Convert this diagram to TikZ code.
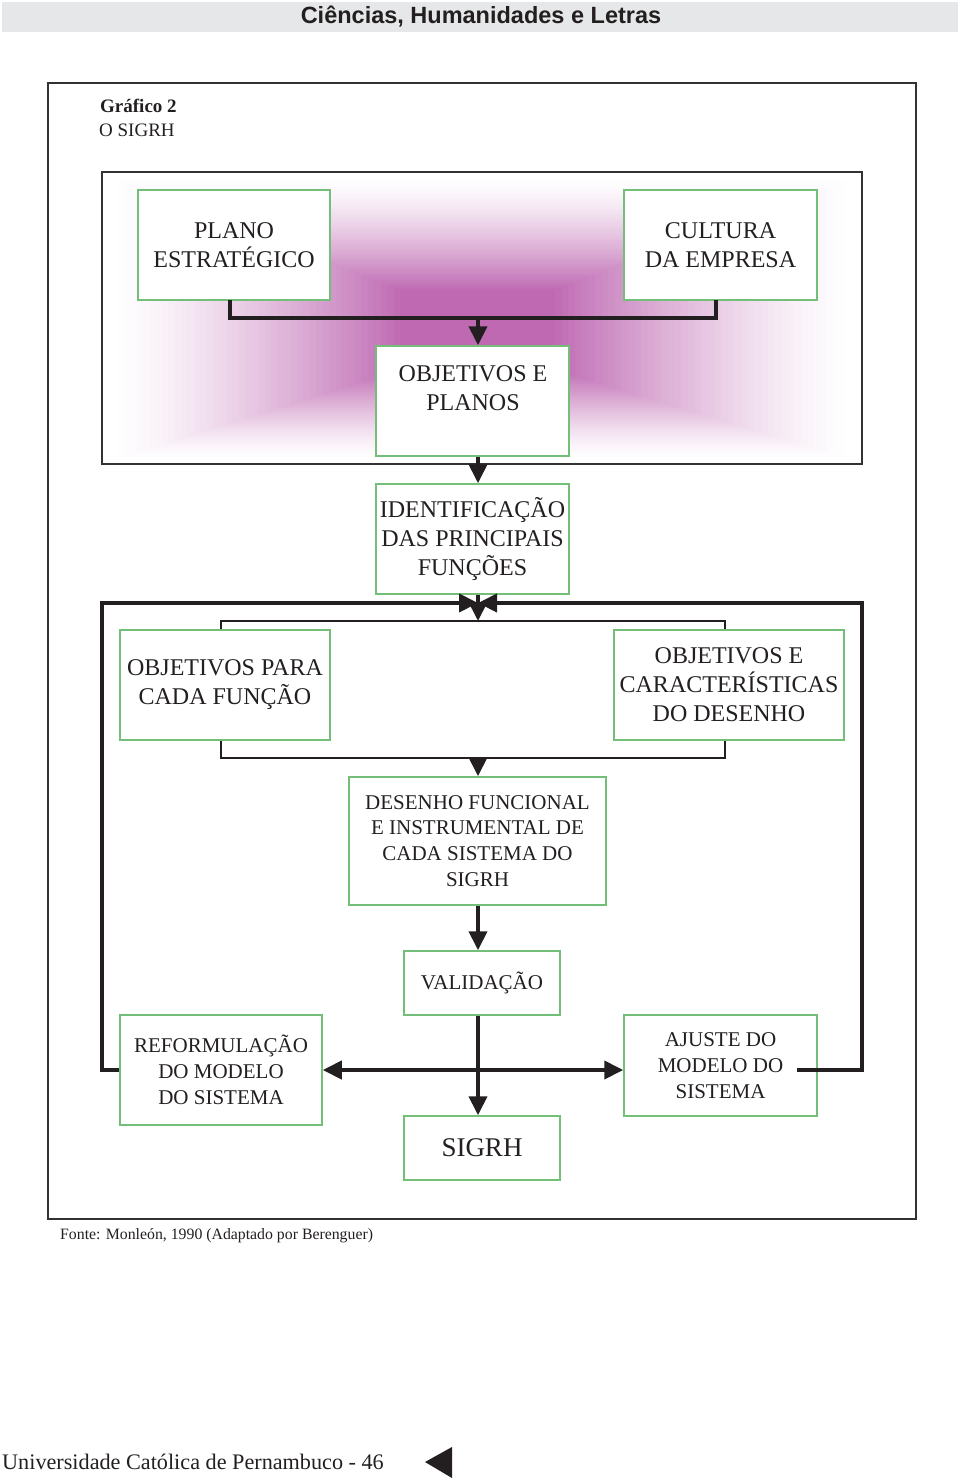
\documentclass[tikz,border=0pt]{standalone}
\usepackage{fontspec}
\setmainfont{Liberation Serif}
\newfontfamily\hdfont{Liberation Sans}
\usetikzlibrary{arrows.meta}
\definecolor{ink}{RGB}{35,31,32}
\definecolor{boxgreen}{RGB}{115,190,120}
\definecolor{purp}{RGB}{190,105,178}
\definecolor{hdgray}{RGB}{230,231,232}
\definecolor{framegray}{RGB}{50,50,50}
\begin{document}
\begin{tikzpicture}[x=1pt,y=-1pt,
  box/.style={draw=boxgreen, line width=1.5pt, fill=white, inner sep=0pt, align=center, text=ink},
  bigtxt/.style={font=\fontsize{24}{29}\selectfont},
  smalltxt/.style={font=\fontsize{21}{25.8}\selectfont},
  txt/.style={align=center, text=ink, inner sep=0pt},
  heavy/.style={draw=ink, line width=4pt},
  light/.style={draw=ink, line width=2pt},
  tip/.style={-{Triangle[length=19pt,width=18pt]}},
  both tips/.style={{Triangle[length=19pt,width=18pt]}-{Triangle[length=19pt,width=18pt]}},
]
\useasboundingbox (0,0) rectangle (960,1479);

% header
\fill[hdgray] (2,2) rectangle (958,32);
\node[txt, font=\hdfont\bfseries\fontsize{23.5}{26}\selectfont] (hd) at (481,17) {Ciências, Humanidades e Letras};

% outer frame
\draw[framegray, line width=2pt] (48,83) rectangle (916,1219);
\node[txt, anchor=base west, font=\bfseries\fontsize{19}{22}\selectfont] (gr) at (100,113) {Gráfico 2};
\node[txt, anchor=base west, font=\fontsize{19}{22}\selectfont] (sg) at (99,137) {O SIGRH};

% shaded panel
\fill[white] (102,172) rectangle (862,464);
\foreach \i in {0,...,45}{
  \pgfmathsetmacro{\t}{\i/45}
  \pgfmathsetmacro{\xa}{110+\t*(400-110)}
  \pgfmathsetmacro{\xb}{854-\t*(854-555)}
  \pgfmathsetmacro{\ya}{178+\t*(290-178)}
  \pgfmathsetmacro{\yb}{460-\t*(460-370)}
  \pgfmathsetmacro{\p}{100*(\t^1.35)}
  \fill[purp!\p!white] (\xa,\ya) rectangle (\xb,\yb);
}
\draw[framegray, line width=2pt] (102,172) rectangle (862,464);

% boxes
\node[box, bigtxt, minimum width=192pt, minimum height=110pt] (plano) at (234,245) {PLANO\\ESTRATÉGICO};
\node[box, bigtxt, minimum width=193pt, minimum height=110pt] (cultura) at (720.5,245) {CULTURA\\DA EMPRESA};
\node[box, minimum width=193pt, minimum height=110pt] (objp) at (472.5,401) {};
\node[txt, bigtxt] (objptxt) at (473,388) {OBJETIVOS E\\PLANOS};
\node[box, bigtxt, minimum width=193pt, minimum height=110pt] (ident) at (472.5,539) {IDENTIFICAÇÃO\\DAS PRINCIPAIS\\FUNÇÕES};
\node[box, bigtxt, minimum width=210pt, minimum height=110pt] (opc) at (225,685) {OBJETIVOS PARA\\CADA FUNÇÃO};
\node[box, bigtxt, minimum width=230pt, minimum height=110pt] (ocd) at (729,685) {OBJETIVOS E\\CARACTERÍSTICAS\\DO DESENHO};
\node[box, smalltxt, minimum width=257pt, minimum height=128pt] (desenho) at (477.5,841) {DESENHO FUNCIONAL\\E INSTRUMENTAL DE\\CADA SISTEMA DO\\SIGRH};
\node[box, smalltxt, minimum width=156pt, minimum height=64pt] (valid) at (482,983) {VALIDAÇÃO};
\node[box, smalltxt, minimum width=202pt, minimum height=110pt] (reform) at (221,1070) {REFORMULAÇÃO\\DO MODELO\\DO SISTEMA};
\node[box, smalltxt, minimum width=193pt, minimum height=101pt] (ajuste) at (720.5,1065.5) {AJUSTE DO\\MODELO DO\\SISTEMA};
\node[box, font=\fontsize{27}{30}\selectfont, minimum width=156pt, minimum height=64pt] (sigrh) at (482,1148) {SIGRH};

% named junction points
\coordinate (j1) at (478,318);
\coordinate (axis) at (478,603);
\coordinate (tl) at (102,603);
\coordinate (tr) at (862,603);
\coordinate (tb) at (478,621);
\coordinate (brl) at (221,621);
\coordinate (brr) at (725,621);
\coordinate (bbl) at (221,758);
\coordinate (bbr) at (725,758);
\coordinate (bb) at (478,758);
\coordinate (ajend) at (797,1070);
\coordinate (pl) at (230,300);
\coordinate (cl) at (716,300);

% top merge
\draw[heavy] (pl) |- (j1) -| (cl);
\draw[heavy, tip] (j1) -- (j1 |- objp.north);
\draw[heavy, tip] (objp.south -| j1) -- (ident.north -| j1);

% feedback loops
\draw[heavy, tip] (reform.west) -| (tl) -- (axis);
\draw[heavy, tip] (ajend) -| (tr) -- (axis);
\draw[heavy, tip] (ident.south -| axis) -- (tb);

% brackets
\draw[light] (opc.north -| brl) -- (brl) -- (brr) -- (ocd.north -| brr);
\draw[light] (opc.south -| bbl) -- (bbl) -- (bbr) -- (ocd.south -| bbr);
\draw[heavy, tip] (bb) -- (desenho.north -| bb);

% lower flow
\draw[heavy, tip] (desenho.south -| axis) -- (valid.north -| axis);
\draw[heavy, tip] (valid.south -| axis) -- (sigrh.north -| axis);
\draw[heavy, both tips] (reform.east) -- (reform.east -| ajuste.west);

% footer
\node[txt, anchor=base west, font=\fontsize{15.8}{18}\selectfont] (fonte) at (60,1239) {Fonte: Monleón, 1990 (Adaptado por Berenguer)};
\node[txt, anchor=base west, font=\fontsize{22.2}{24}\selectfont] (univ) at (2,1469) {Universidade Católica de Pernambuco - 46};
\fill[ink] (425,1462) -- (452,1447) -- (452,1478) -- cycle;
\end{tikzpicture}
\end{document}
